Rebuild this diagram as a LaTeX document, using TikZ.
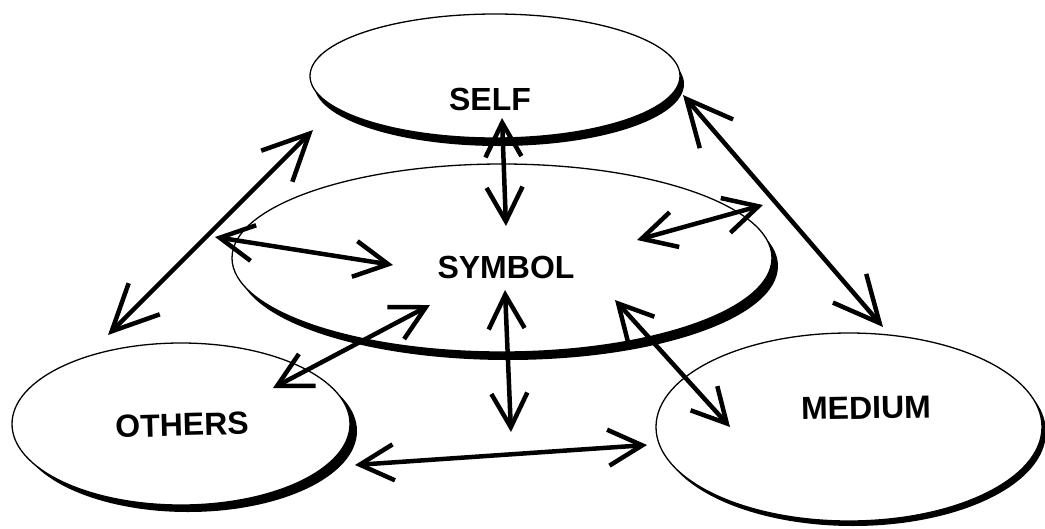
\documentclass[tikz,border=0pt]{standalone}
\usepackage{fontspec}
\setmainfont{Liberation Sans}
\usetikzlibrary{arrows.meta,shapes.geometric,shadows}
\begin{document}
\begin{tikzpicture}[x=1pt,y=-1pt,
  lbl/.style={font=\bfseries\fontsize{32}{36}\selectfont, inner sep=0pt},
  bubble/.style={ellipse, draw=black, line width=1.3pt, fill=white, inner sep=0pt},
  link/.style={line width=4.5pt, line cap=round,
    {Straight Barb[length=34pt,width=36pt,line width=4.5pt]}-{Straight Barb[length=34pt,width=36pt,line width=4.5pt]}},
  biglink/.style={line width=4.5pt, line cap=round,
    {Straight Barb[length=46pt,width=44pt,line width=4.5pt]}-{Straight Barb[length=46pt,width=44pt,line width=4.5pt]}}
]
\useasboundingbox (0,0) rectangle (1045,528);

% ellipses with drop shadows
\node[bubble, minimum width=338pt, minimum height=162pt,
  drop shadow={shadow xshift=7pt, shadow yshift=-7pt, fill=black, opacity=1}] (others) at (181,424) {};
\node[bubble, minimum width=386pt, minimum height=188pt,
  drop shadow={shadow xshift=4pt, shadow yshift=-5pt, fill=black, opacity=1}] (medium) at (849,427) {};
\node[bubble, minimum width=370pt, minimum height=124pt,
  drop shadow={shadow xshift=4pt, shadow yshift=-8pt, fill=black, opacity=1}] (self) at (495,76) {};
\node[bubble, minimum width=540pt, minimum height=188pt,
  drop shadow={shadow xshift=6pt, shadow yshift=-8pt, fill=black, opacity=1}] (symbol) at (502,258) {};

% labels
\node[lbl] (tself) at (490,99) {SELF};
\node[lbl] (tsym) at (506,267) {SYMBOL};
\node[lbl, rotate=1.5] (toth) at (182,425) {OTHERS};
\node[lbl, rotate=1] (tmed) at (866,408) {MEDIUM};

% arrow end points
\coordinate (so1) at (313,130);
\coordinate (so2) at (108,335);
\coordinate (sm1) at (683,95);
\coordinate (sm2) at (883,327);
\coordinate (ss1) at (502,118);
\coordinate (ss2) at (506,226);
\coordinate (l1) at (215,237);
\coordinate (l2) at (393,265);
\coordinate (r1) at (637,240);
\coordinate (r2) at (763,205);
\coordinate (ll1) at (273,388);
\coordinate (ll2) at (430,305);
\coordinate (lv1) at (505,290);
\coordinate (lv2) at (511,432);
\coordinate (lr1) at (615,300);
\coordinate (lr2) at (730,427);
\coordinate (b1) at (355,465);
\coordinate (b2) at (647,445);

% connectors
\draw[biglink] (so1) -- (so2);
\draw[biglink] (sm1) -- (sm2);
\draw[link] (ss1) -- (ss2);
\draw[link] (l1) -- (l2);
\draw[link] (r1) -- (r2);
\draw[link] (ll1) -- (ll2);
\draw[link] (lv1) -- (lv2);
\draw[link] (lr1) -- (lr2);
\draw[link] (b1) -- (b2);
\end{tikzpicture}
\end{document}
